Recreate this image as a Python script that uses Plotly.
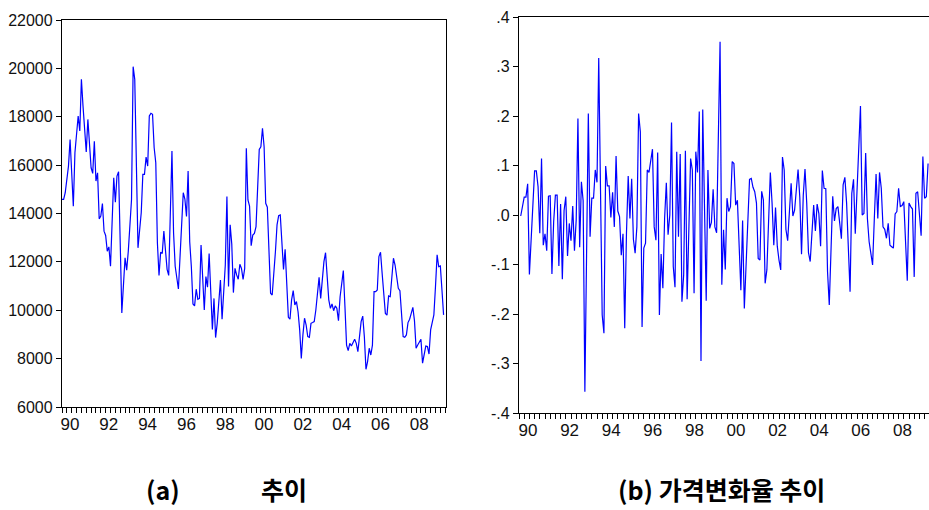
import plotly.graph_objects as go

W, H = 929, 510

# ---------------- data ----------------
# month index counted from 1990-01 (0 = Jan 1990)
price_month = [0, 1, 2, 4, 5, 7, 8, 10, 11, 12, 13, 15, 16, 18, 19, 20, 21, 22, 23, 24,
               25, 26, 27, 28, 29, 30, 32, 33, 34, 35, 37, 39, 40, 41, 43, 44, 45, 47, 49, 50,
               51, 52, 53, 54, 55, 56, 57, 58, 59, 60, 61, 62, 63, 65, 66, 68, 69, 70, 72, 74,
               75, 76, 77, 78, 79, 80, 81, 82, 83, 84, 85, 86, 87, 88, 89, 90, 91, 92, 93, 94,
               95, 96, 97, 98, 99, 100, 101, 102, 103, 104, 105, 106, 107, 108, 109, 110, 111, 112, 113, 114,
               115, 116, 117, 118, 119, 120, 122, 123, 124, 125, 126, 127, 128, 129, 130, 131, 132, 133, 134, 135,
               136, 137, 138, 139, 140, 141, 142, 143, 144, 145, 146, 147, 148, 149, 150, 151, 152, 153, 154, 155,
               156, 157, 158, 159, 160, 161, 162, 163, 164, 165, 166, 167, 168, 169, 170, 171, 172, 173, 174, 175,
               176, 177, 178, 179, 180, 181, 182, 183, 184, 185, 186, 187, 188, 189, 190, 191, 192, 193, 194, 195,
               196, 197, 198, 199, 200, 201, 202, 203, 204, 205, 206, 207, 208, 209, 210, 211, 212, 213, 214, 215,
               216, 217, 218, 219, 220, 221, 222, 223, 224, 225, 226, 227, 228, 229, 230, 231, 232, 233, 234, 235,
               236]
price_value = [14580, 14580, 14860, 15960, 17060, 14300, 16510, 18030, 17410, 19545, 18440, 16540, 17890, 15890, 15660, 16990, 15340, 15680, 13780, 13890,
               14415, 13270, 13090, 12440, 12620, 11820, 15480, 14470, 15550, 15725, 9890, 12170, 11660, 12440, 14580, 20070, 19545, 12580, 14030, 15615,
               15615, 16330, 15960, 18030, 18140, 18100, 16720, 16100, 12790, 11440, 12400, 12350, 13270, 11690, 11440, 16580, 13200, 11820, 10880, 13480,
               14860, 14600, 13880, 15760, 12820, 11800, 10260, 10180, 10870, 10450, 10490, 12700, 11320, 10010, 11390, 10950, 12350, 10430, 9210, 10490,
               8870, 9460, 10290, 11250, 9630, 10840, 11870, 14700, 10980, 13530, 12740, 10730, 11730, 11460, 11280, 11900, 11730, 11280, 11730, 16700,
               14560, 14310, 12670, 13110, 13180, 13460, 16650, 16760, 17520, 16760, 14420, 14260, 11940, 10700, 10630, 11390, 12420, 13530, 13910, 13940,
               12880, 11690, 12520, 10910, 9710, 9630, 10430, 10810, 10220, 10360, 9940, 9190, 8010, 8980, 9670, 9390, 8910, 8880, 9460, 9490,
               9530, 10010, 10700, 11360, 10490, 11390, 12010, 12380, 11390, 10430, 10080, 10260, 9980, 10180, 10080, 9570, 10560, 11050, 11640, 10150,
               8560, 8330, 8630, 8520, 8660, 8800, 8630, 8290, 8910, 9530, 9760, 8910, 7560, 7880, 8430, 8150, 8560, 10770, 10770, 10840,
               12220, 12400, 11530, 10700, 9870, 9800, 10590, 10560, 11530, 12150, 11870, 11390, 10910, 10810, 9940, 8910, 8880, 8980, 9490, 9630,
               9870, 10120, 9570, 8430, 8560, 8700, 8800, 7810, 8150, 8520, 8500, 8190, 9190, 9530, 9810, 10980, 12290, 11800, 11830, 10840,
               9810]

rate_month = [1, 3, 4, 5, 6, 7, 9, 10, 11, 12, 13, 14, 15, 16, 17, 18, 19, 20, 21, 22,
              23, 24, 25, 26, 27, 28, 29, 30, 31, 32, 33, 34, 35, 36, 37, 38, 39, 40, 41, 42,
              43, 44, 45, 46, 48, 49, 50, 51, 52, 53, 54, 55, 56, 57, 58, 59, 60, 61, 62, 63,
              64, 65, 66, 67, 68, 69, 70, 71, 72, 73, 74, 75, 77, 78, 79, 80, 81, 82, 83, 84,
              85, 86, 87, 88, 89, 90, 91, 92, 93, 94, 95, 96, 97, 98, 99, 100, 101, 102, 103, 104,
              105, 106, 107, 108, 109, 110, 111, 112, 113, 114, 116, 117, 118, 119, 120, 121, 122, 123, 124, 125,
              126, 128, 129, 130, 133, 134, 135, 136, 137, 138, 139, 140, 141, 142, 143, 145, 146, 147, 148, 149,
              150, 151, 152, 153, 154, 155, 157, 158, 159, 161, 162, 163, 164, 165, 166, 167, 168, 169, 170, 171,
              172, 173, 174, 175, 176, 177, 178, 179, 180, 181, 182, 183, 184, 185, 186, 187, 188, 189, 190, 191,
              192, 193, 194, 197, 198, 199, 200, 201, 202, 203, 204, 205, 206, 207, 208, 209, 210, 211, 212, 213,
              214, 215, 216, 217, 218, 219, 220, 221, 222, 224, 225, 226, 227, 228, 229, 230, 231, 232, 233, 234,
              235, 236]
rate_value = [-0.002, 0.036, 0.036, 0.063, -0.120, -0.057, 0.089, 0.089, 0.057, -0.037, 0.114, -0.061, -0.038, -0.072, 0.038, 0.039, -0.119, -0.013, 0.040, 0.040,
              -0.103, 0.022, -0.130, 0.009, 0.037, -0.083, -0.017, -0.052, 0.018, -0.072, -0.010, 0.195, -0.065, 0.067, 0.029, -0.357, -0.106, 0.205, -0.044, 0.034,
              0.034, 0.091, 0.066, 0.317, -0.202, -0.239, 0.099, 0.059, 0.059, -0.005, 0.046, -0.024, 0.119, 0.008, -0.003, -0.081, -0.038, -0.229, -0.037, 0.079,
              -0.007, 0.073, -0.049, -0.077, -0.024, 0.205, 0.168, -0.226, -0.067, -0.057, 0.091, 0.086, 0.133, -0.024, -0.051, 0.126, -0.202, -0.079, -0.148, -0.007,
              0.065, -0.040, 0.000, 0.187, -0.104, -0.146, 0.128, -0.044, 0.123, -0.175, -0.121, 0.130, -0.170, -0.007, 0.114, 0.091, -0.158, 0.128, 0.086, 0.209,
              -0.295, 0.213, -0.030, -0.173, 0.091, -0.027, -0.015, 0.052, -0.024, -0.036, 0.350, -0.141, -0.030, -0.110, 0.034, 0.007, 0.017, 0.108, 0.104, 0.020,
              0.030, -0.152, -0.011, -0.189, 0.072, 0.074, 0.056, 0.047, 0.024, -0.088, -0.091, 0.048, 0.030, -0.138, -0.111, 0.086, 0.024, -0.061, 0.015, -0.063,
              -0.091, -0.111, 0.117, 0.091, -0.029, -0.052, 0.064, -0.002, 0.010, 0.092, 0.036, -0.079, 0.040, 0.093, 0.024, -0.076, -0.094, -0.030, 0.020, -0.032,
              0.022, 0.003, -0.063, 0.090, 0.054, 0.053, -0.114, -0.182, -0.057, 0.038, -0.012, 0.013, 0.017, -0.015, -0.048, 0.061, 0.076, 0.024, -0.084, -0.155,
              0.044, 0.072, -0.038, 0.220, 0.000, 0.003, 0.125, -0.007, -0.054, -0.081, -0.101, -0.007, 0.083, -0.007, 0.086, 0.054, -0.024, -0.029, -0.047, -0.017,
              -0.061, -0.064, -0.067, 0.002, 0.007, 0.054, 0.017, 0.019, 0.027, -0.133, 0.024, 0.017, 0.012, -0.125, 0.044, 0.047, 0.003, -0.042, 0.118, 0.034,
              0.037, 0.104]

years = list(range(1990, 2010))
year_labels = [f"{y % 100:02d}" if y % 2 == 0 else "" for y in years]
price_ticks = list(range(6000, 22001, 2000))
rate_ticks = [-0.4, -0.3, -0.2, -0.1, 0.0, 0.1, 0.2, 0.3, 0.4]
rate_tick_text = ["-.4", "-.3", "-.2", "-.1", ".0", ".1", ".2", ".3", ".4"]

cap_a_left = "(a)"
cap_a_right = "추이"
cap_b = "(b) 가격변화율 추이"

# ---------------- figure ----------------
def yr(m):
    return [1990 + v / 12.0 for v in m]

LINE = "#0000FF"
NUMFONT = dict(family="Liberation Sans, Arial, sans-serif", size=16, color="#111111")
XFONT = dict(NUMFONT, size=17)

fig = go.Figure()
fig.add_trace(go.Scatter(x=yr(price_month), y=price_value, mode="lines",
                         line=dict(color=LINE, width=1.2), xaxis="x", yaxis="y",
                         showlegend=False, hoverinfo="skip"))
fig.add_trace(go.Scatter(x=yr(rate_month), y=rate_value, mode="lines",
                         line=dict(color=LINE, width=1.2), xaxis="x2", yaxis="y2",
                         showlegend=False, hoverinfo="skip"))

axis_common = dict(showgrid=False, zeroline=False, showline=True, linecolor="#000000",
                   linewidth=1.3, ticks="outside", ticklen=5, tickwidth=1,
                   tickcolor="#000000", tickfont=NUMFONT, automargin=False, fixedrange=True)

fig.update_layout(
    width=W, height=H,
    paper_bgcolor="white", plot_bgcolor="white",
    margin=dict(l=0, r=0, t=0, b=0, pad=0),
    xaxis=dict(axis_common, domain=[62 / W, 446 / W], range=[1990, 1990 + 237.5 / 12],
               anchor="y", mirror=True, tickmode="array", tickvals=years, ticktext=year_labels,
               tickfont=XFONT, ticklabelshift=8, ticklabelstandoff=-4,
               minor=dict(ticks="outside", ticklen=5, dtick=0.25, tick0=1990, tickcolor="#000000")),
    yaxis=dict(axis_common, domain=[1 - 407 / H, 1 - 20 / H], range=[6000, 22000],
               anchor="x", mirror=True, tickmode="array", tickvals=price_ticks,
               ticktext=[str(v) for v in price_ticks]),
    xaxis2=dict(axis_common, domain=[519 / W, 1.0], range=[1990, 1990 + 410 / 20.8],
                anchor="y2", mirror=True, tickmode="array", tickvals=years, ticktext=year_labels,
                tickfont=XFONT, ticklabelshift=9, ticklabelstandoff=-4,
                minor=dict(ticks="outside", ticklen=5, dtick=0.25, tick0=1990, tickcolor="#000000")),
    yaxis2=dict(axis_common, domain=[1 - 413 / H, 1 - 17 / H], range=[-0.4, 0.4],
                anchor="x2", mirror=False, tickmode="array", tickvals=rate_ticks,
                ticktext=rate_tick_text),
)

CAPFONT = dict(family="Noto Sans CJK KR, Noto Sans, sans-serif", size=25, color="#000000",
               weight="bold")
CAP_Y = 1 - 489 / H
fig.add_annotation(text=cap_a_left, x=163 / W, y=CAP_Y, xref="paper", yref="paper",
                   showarrow=False, font=CAPFONT, xanchor="center", yanchor="middle", borderpad=0)
fig.add_annotation(text=cap_a_right, x=284 / W, y=CAP_Y, xref="paper", yref="paper",
                   showarrow=False, font=CAPFONT, xanchor="center", yanchor="middle", borderpad=0)
fig.add_annotation(text=cap_b, x=721 / W, y=CAP_Y, xref="paper", yref="paper",
                   showarrow=False, font=CAPFONT, xanchor="center", yanchor="middle", borderpad=0)

fig.write_html("out.html", config={"displayModeBar": False},
               post_script="document.body.style.margin='0';document.body.style.overflow='hidden';")
